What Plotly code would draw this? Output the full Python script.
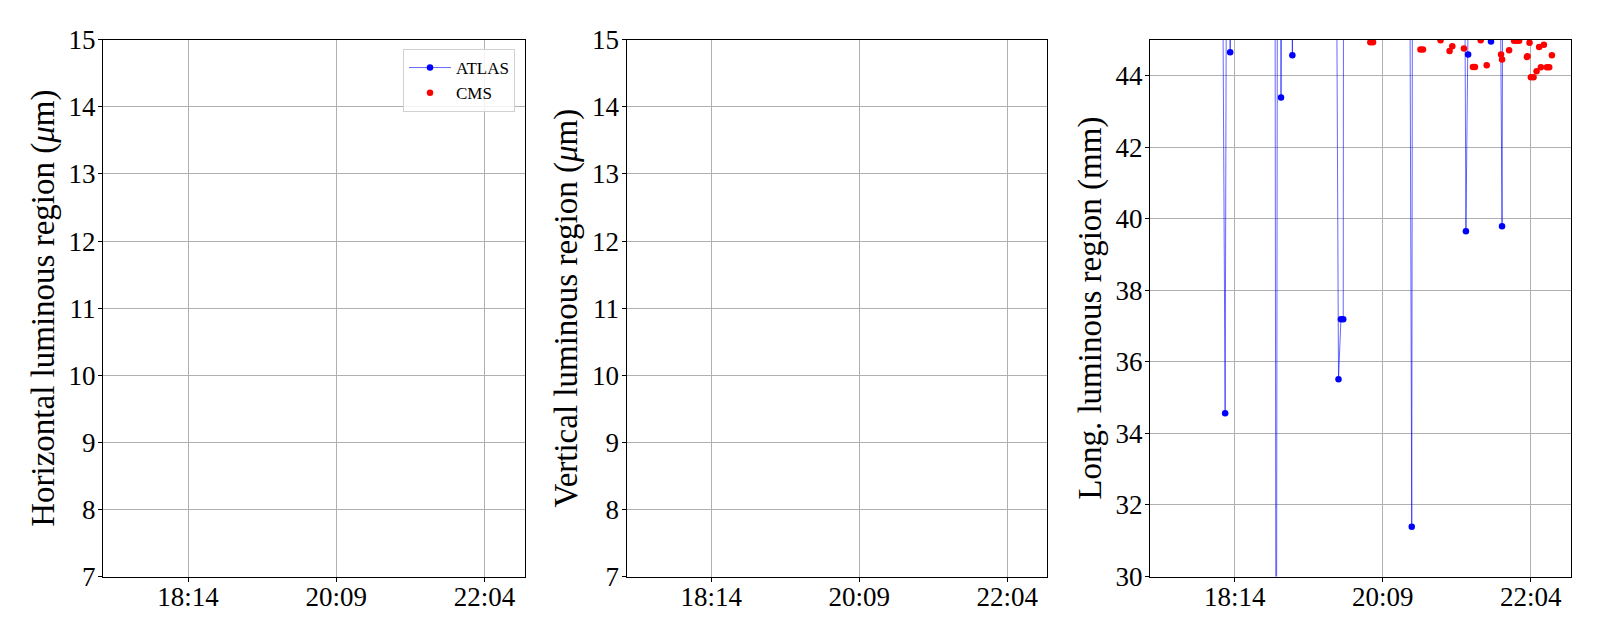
import plotly.graph_objects as go

DAY = "2022-07-05"

# ATLAS longitudinal luminous region (mm); values above 45 are off-scale (estimated)
atlas_time = ["17:24:00", "17:50:00", "18:04:15", "18:06:26", "18:07:31", "18:09:33", "18:10:20", "18:11:16",
              "18:30:00", "18:45:13", "18:46:09", "18:47:05", "18:49:20", "18:49:53", "18:50:40",
              "18:58:10", "18:58:43", "18:59:29", "19:15:00", "19:32:58", "19:34:35", "19:36:28",
              "19:38:16", "19:38:30", "20:00:00", "20:29:59", "20:31:33", "20:32:06", "20:50:00",
              "21:12:40", "21:13:41", "21:15:24", "21:16:01", "21:32:34", "21:33:11", "21:33:44",
              "21:40:13", "21:41:46", "21:42:19", "22:00:00", "22:19:00"]
atlas_long = [48.0, 48.5, 49.0, 34.56, 48.5, 48.0, 44.65, 48.2,
              48.0, 48.5, 20.0, 48.0, 48.3, 43.39, 48.1,
              47.9, 44.57, 48.0, 47.8, 48.2, 35.51, 37.19,
              37.19, 48.0, 47.7, 48.1, 31.39, 48.0, 47.6,
              48.0, 39.65, 44.59, 47.9, 47.5, 44.95, 47.6,
              47.8, 39.79, 47.9, 47.4, 47.3]

# CMS longitudinal luminous region (mm)
cms_time = ["19:59:20", "20:01:26", "20:38:20", "20:40:17", "20:53:56", "21:00:58", "21:03:04",
            "21:12:07", "21:19:08", "21:20:42", "21:25:09", "21:29:50", "21:40:59", "21:41:46",
            "21:47:14", "21:51:08", "21:53:14", "21:55:02", "22:01:02", "22:01:35", "22:03:08",
            "22:04:10", "22:06:16", "22:08:37", "22:10:38", "22:11:58", "22:14:18", "22:16:38",
            "22:18:26", "22:20:32"]
cms_long = [44.93, 44.93, 44.73, 44.73, 44.99, 44.69, 44.82,
            44.76, 44.24, 44.24, 44.99, 44.29, 44.59, 44.45,
            44.71, 44.97, 44.97, 44.97, 44.52, 44.54, 44.92,
            43.95, 43.95, 44.12, 44.80, 44.23, 44.86, 44.23,
            44.23, 44.57]

x_range = ["17:08:00", "22:35:00"]
tick_times = ["18:14", "20:09", "22:04"]

def dt(t):
    return f"{DAY} {t}"

FONT = "Liberation Serif, Times New Roman, serif"

# page body has an 8px margin; figure is sized to fit inside the 1600x640 window
W, H, OFF = 1584, 624, 8
def fx(px):
    return (px - OFF) / W
def fy(py):
    return 1 - (py - OFF) / H

fig = go.Figure()
# empty traces so the first two (data-less) panels are drawn
fig.add_trace(go.Scatter(x=[], y=[], xaxis="x", yaxis="y", showlegend=False, hoverinfo="skip"))
fig.add_trace(go.Scatter(x=[], y=[], xaxis="x2", yaxis="y2", showlegend=False, hoverinfo="skip"))
fig.add_trace(go.Scatter(
    x=[dt(t) for t in atlas_time], y=atlas_long, name="ATLAS",
    mode="lines+markers", xaxis="x3", yaxis="y3",
    line=dict(color="rgba(0,0,255,0.6)", width=1),
    marker=dict(color="blue", size=6.5),
))
fig.add_trace(go.Scatter(
    x=[dt(t) for t in cms_time], y=cms_long, name="CMS",
    mode="markers", xaxis="x3", yaxis="y3",
    marker=dict(color="red", size=6.5),
))

xdoms = [[fx(103), fx(524.5)], [fx(626.5), fx(1047)], [fx(1150), fx(1570.5)]]
ydom = [fy(576.5), fy(39.8)]
ytitles = ["Horizontal luminous region (<i>μ</i>m)", "Vertical luminous region (<i>μ</i>m)",
           "Long. luminous region (mm)"]
yranges = [[7, 15], [7, 15], [30, 45]]
ydticks = [1, 1, 2]

common = dict(showline=True, linecolor="black", linewidth=1, mirror=True,
              ticks="outside", ticklen=4, tickcolor="black", tickwidth=1,
              showgrid=True, gridcolor="#b0b0b0", gridwidth=0.8, zeroline=False,
              automargin=False,
              tickfont=dict(family=FONT, size=27, color="black"))

layout = {}
for i in range(3):
    sx = "" if i == 0 else str(i + 1)
    layout[f"xaxis{sx}"] = dict(
        domain=xdoms[i], anchor=f"y{sx}", type="date",
        range=[dt(x_range[0]), dt(x_range[1])],
        tickmode="array", tickvals=[dt(t) for t in tick_times], ticktext=tick_times,
        ticklabelstandoff=-8,
        **common)
    layout[f"yaxis{sx}"] = dict(
        domain=ydom, anchor=f"x{sx}", range=yranges[i], dtick=ydticks[i], tick0=yranges[i][0],
        ticklabelstandoff=-3,
        title=dict(text=ytitles[i], font=dict(family=FONT, size=33, color="black"), standoff=4),
        **common)

fig.update_layout(
    width=W, height=H,
    margin=dict(l=0, r=0, t=0, b=0),
    paper_bgcolor="white", plot_bgcolor="white",
    font=dict(family=FONT, color="black"),
    legend=dict(x=fx(515), xanchor="right", y=fy(49), yanchor="top",
                bgcolor="rgba(255,255,255,0.85)", bordercolor="#d0d0d0", borderwidth=1,
                itemwidth=42,
                font=dict(family=FONT, size=17, color="black")),
    **layout,
)

fig.write_html("out.html")
